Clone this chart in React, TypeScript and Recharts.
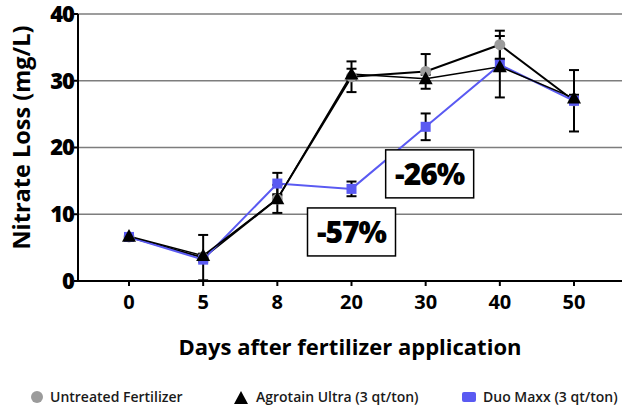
import React from 'react';
import { LineChart, Line, XAxis, YAxis, CartesianGrid, ErrorBar, Legend, ReferenceDot } from 'recharts';

const days = ['0', '5', '8', '20', '30', '40', '50'];
const untreated = [6.6, 3.5, 12.3, 30.6, 31.4, 35.4, 27.0];
const untreatedErr = [0.3, 3.4, 0.5, 2.3, 2.6, 2.1, 4.6];
const agrotain = [6.7, 3.8, 12.3, 31.0, 30.3, 32.1, 27.4];
const agrotainErr = [0.3, 0.3, 2.1, 0.8, 0.6, 4.6, 0.5];
const duo = [6.6, 3.2, 14.6, 13.8, 23.1, 32.4, 27.0];
const duoErr = [0.3, 0.3, 1.6, 1.1, 2.0, 0.8, 0.5];
const yTicks = [0, 10, 20, 30, 40];

const annotations = [
  { x: '20', y: 7.35, text: '-57%', dx: 0 },
  { x: '30', y: 16.05, text: '-26%', dx: 4 },
];

const seriesNames = {
  untreated: 'Untreated Fertilizer',
  agrotain: 'Agrotain Ultra (3 qt/ton)',
  duo: 'Duo Maxx (3 qt/ton)',
};

const data = days.map((d, i) => ({
  day: d,
  untreated: untreated[i],
  untreatedErr: untreatedErr[i],
  agrotain: agrotain[i],
  agrotainErr: agrotainErr[i],
  duo: duo[i],
  duoErr: duoErr[i],
}));

const FONT = '"Open Sans", "Noto Sans", sans-serif';
const BLUE = '#5a5af2';
const GRAY = '#9b9b9b';

const CircleDot = (p: any) => {
  if (p.cx == null || p.cy == null) return null;
  return <circle key={`c-${p.index}`} cx={p.cx} cy={p.cy} r={5.5} fill={GRAY} />;
};
const SquareDot = (p: any) => {
  if (p.cx == null || p.cy == null) return null;
  return <rect key={`s-${p.index}`} x={p.cx - 5} y={p.cy - 5} width={10} height={10} fill={BLUE} />;
};
const TriDot = (p: any) => {
  if (p.cx == null || p.cy == null) return null;
  const w = 7, h = 12;
  return (
    <polygon
      key={`t-${p.index}`}
      points={`${p.cx},${p.cy - h * 0.6} ${p.cx - w},${p.cy + h * 0.45} ${p.cx + w},${p.cy + h * 0.45}`}
      fill="#000"
    />
  );
};

const LegendContent = () => {
  const items = [
    { key: 'u', left: 30, label: seriesNames.untreated, icon: <svg width={14} height={14}><circle cx={7} cy={7} r={6} fill={GRAY} /></svg> },
    { key: 'a', left: 232, label: seriesNames.agrotain, icon: <svg width={18} height={14}><polygon points="9,1 2,14 16,14" fill="#000" /></svg> },
    { key: 'd', left: 461, label: seriesNames.duo, icon: <svg width={16} height={14}><rect x={1} y={2} width={14} height={10} rx={2} fill={BLUE} /></svg> },
  ];
  return (
    <div style={{ position: 'relative', width: 623, height: 22, fontFamily: FONT, fontWeight: 650, fontSize: 14, color: '#1a1a1a', whiteSpace: 'nowrap' }}>
      {items.map((it) => (
        <div key={it.key} style={{ position: 'absolute', left: it.left, top: 2, display: 'flex', alignItems: 'center', gap: 6 }}>
          {it.icon}
          <span>{it.label}</span>
        </div>
      ))}
    </div>
  );
};

const AnnotationBox = (text: string, dx: number) => (p: any) => {
  if (p.cx == null || p.cy == null) return null;
  const w = 88, h = 48;
  const cx = p.cx + dx;
  return (
    <g>
      <rect x={cx - w / 2} y={p.cy - h / 2} width={w} height={h} fill="#fff" stroke="#000" strokeWidth={1.5} />
      <text x={cx} y={p.cy + 11} textAnchor="middle" fontFamily={FONT} fontWeight={800} fontSize={30} letterSpacing={-1} fill="#000">
        {text}
      </text>
    </g>
  );
};

export default function App() {
  return (
    <div style={{ position: 'absolute', left: 0, top: 0, width: 623, height: 407, background: '#fff' }}>
      <LineChart width={623} height={407} data={data} margin={{ top: 14, right: 1, left: 0, bottom: 0 }}>
        <CartesianGrid vertical={false} stroke="#7d7d7d" strokeWidth={1.5} />
        <XAxis
          dataKey="day"
          type="category"
          padding={{ left: 51, right: 48 }}
          height={104}
          axisLine={{ stroke: '#000', strokeWidth: 2 }}
          tickLine={{ stroke: '#000', strokeWidth: 2 }}
          tickSize={5}
          tickMargin={9}
          tick={{ fontFamily: FONT, fontWeight: 700, fontSize: 20, fill: '#000' }}
          label={(props: any) => {
            const vb = props.viewBox;
            return (
              <text x={vb.x + vb.width / 2} y={vb.y + 74} textAnchor="middle" fontFamily={FONT} fontWeight={700} fontSize={22} fill="#000">
                Days after fertilizer application
              </text>
            );
          }}
        />
        <YAxis
          domain={[0, 40]}
          ticks={yTicks}
          width={78}
          axisLine={{ stroke: '#000', strokeWidth: 2 }}
          tickLine={{ stroke: '#000', strokeWidth: 2 }}
          tickSize={4}
          tickMargin={0}
          tick={{ fontFamily: FONT, fontWeight: 800, fontSize: 22, fill: '#000', letterSpacing: -1 }}
          label={(props: any) => {
            const vb = props.viewBox;
            const x = 30;
            const y = vb.y + vb.height / 2 - 10;
            return (
              <text x={x} y={y} transform={`rotate(-90, ${x}, ${y})`} textAnchor="middle" fontFamily={FONT} fontWeight={700} fontSize={23.5} fill="#000">
                Nitrate Loss (mg/L)
              </text>
            );
          }}
        />
        <Legend verticalAlign="bottom" align="left" content={LegendContent} />
        <Line
          dataKey="untreated"
          name={seriesNames.untreated}
          stroke="#000"
          strokeWidth={2}
          dot={CircleDot}
          activeDot={false}
          isAnimationActive={false}
        >
          <ErrorBar dataKey="untreatedErr" direction="y" stroke="#000" strokeWidth={2} width={5} />
        </Line>
        <Line
          dataKey="duo"
          name={seriesNames.duo}
          stroke={BLUE}
          strokeWidth={2}
          dot={SquareDot}
          activeDot={false}
          isAnimationActive={false}
        >
          <ErrorBar dataKey="duoErr" direction="y" stroke="#000" strokeWidth={2} width={5} />
        </Line>
        <Line
          dataKey="agrotain"
          name={seriesNames.agrotain}
          stroke="#000"
          strokeWidth={1.5}
          dot={TriDot}
          activeDot={false}
          isAnimationActive={false}
        >
          <ErrorBar dataKey="agrotainErr" direction="y" stroke="#000" strokeWidth={2} width={5} />
        </Line>
        {annotations.map((a) => (
          <ReferenceDot key={a.text} x={a.x} y={a.y} r={0} shape={AnnotationBox(a.text, a.dx)} ifOverflow="visible" />
        ))}
      </LineChart>
    </div>
  );
}
